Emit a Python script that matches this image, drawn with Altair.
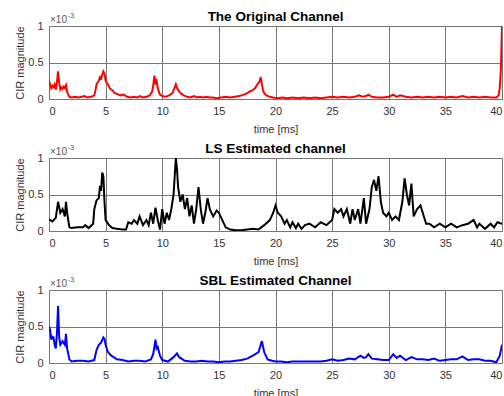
import altair as alt
import pandas as pd

# (time [ms], CIR magnitude x1e-3)
ORIGINAL = [(0,.25),(.1,.2),(.2,.15),(.3,.18),(.4,.16),(.5,.2),(.6,.13),(.7,.22),(.8,.38),(.9,.22),
    (1.0,.13),(1.1,.16),(1.2,.14),(1.3,.17),(1.4,.15),(1.5,.19),(1.6,.1),(1.7,.06),(1.8,.03),(2.0,.02),
    (2.3,.03),(2.6,.02),(2.9,.03),(3.1,.04),(3.4,.02),(3.7,.03),(4.0,.05),(4.1,.12),(4.2,.2),(4.3,.23),
    (4.4,.25),(4.5,.3),(4.6,.28),(4.7,.33),(4.8,.38),(4.9,.35),(5.0,.25),(5.1,.22),(5.2,.2),(5.4,.14),
    (5.6,.12),(5.8,.08),(6.0,.07),(6.3,.05),(6.6,.06),(6.9,.03),(7.2,.02),(7.5,.03),(7.8,.02),(8.0,.04),
    (8.3,.02),(8.6,.03),(8.9,.05),(9.1,.1),(9.2,.18),(9.3,.32),(9.4,.22),(9.5,.25),(9.6,.15),(9.7,.1),
    (9.8,.06),(10.0,.04),(10.3,.03),(10.6,.05),(10.9,.08),(11.0,.12),(11.1,.16),(11.2,.2),(11.3,.15),
    (11.5,.1),(11.7,.07),(11.9,.05),(12.2,.03),(12.5,.02),(12.8,.04),(13.1,.02),(13.3,.03),(13.6,.02),
    (13.9,.03),(14.2,.02),(14.5,.02),(14.8,.01),(15.2,.02),(15.6,.03),(16.0,.02),(16.4,.03),(16.8,.04),
    (17.2,.06),(17.5,.08),(17.8,.11),(18.0,.12),(18.2,.15),(18.4,.2),(18.6,.24),(18.7,.3),(18.8,.2),
    (18.9,.12),(19.0,.08),(19.2,.05),(19.5,.03),(19.8,.02),(20.2,.01),(20.6,.02),(21.0,.01),(21.5,.02),
    (22.0,.01),(22.5,.02),(23.0,.01),(23.5,.02),(24.0,.01),(24.5,.02),(25.0,.03),(25.5,.02),(26.0,.03),
    (26.5,.02),(27.0,.03),(27.4,.05),(27.7,.03),(28.0,.04),(28.2,.06),(28.5,.03),(29.0,.02),(29.5,.02),
    (30.0,.03),(30.4,.06),(30.7,.03),(31.0,.05),(31.5,.03),(32.0,.02),(32.5,.03),(33.0,.02),(33.5,.03),
    (34.0,.02),(34.5,.03),(35.0,.02),(35.5,.03),(36.0,.02),(36.5,.04),(37.0,.02),(37.5,.03),(38.0,.02),
    (38.5,.03),(39.0,.02),(39.5,.02),(39.7,.05),(39.8,.15),(39.9,.4),(40.0,1.0)]

LS = [(0,.16),(.3,.13),(.6,.18),(.8,.4),(1.0,.25),(1.2,.3),(1.4,.2),(1.5,.4),(1.6,.25),(1.8,.05),
    (2.0,.04),(2.5,.05),(3.0,.05),(3.2,.08),(3.5,.04),(3.9,.1),(4.0,.3),(4.2,.42),(4.4,.45),(4.5,.62),
    (4.6,.55),(4.7,.8),(4.8,.75),(4.9,.4),(5.0,.15),(5.3,.08),(5.6,.04),(6.0,.03),(6.5,.02),(6.8,.02),
    (7.0,.12),(7.3,.1),(7.5,.15),(7.8,.1),(8.0,.2),(8.3,.08),(8.6,.15),(8.8,.08),(9.0,.25),(9.2,.1),
    (9.4,.32),(9.6,.15),(9.8,.02),(10.0,.3),(10.2,.1),(10.4,.25),(10.6,.15),(10.8,.3),(11.0,.5),
    (11.2,1.0),(11.3,.85),(11.4,.6),(11.6,.4),(11.8,.5),(12.0,.3),(12.2,.45),(12.4,.2),(12.6,.35),
    (12.8,.1),(13.0,.3),(13.2,.6),(13.4,.3),(13.6,.1),(13.8,.25),(14.0,.45),(14.2,.3),(14.5,.2),
    (14.8,.28),(15.0,.25),(15.3,.15),(15.6,.05),(16.0,.02),(16.5,.01),(17.0,.01),(17.5,.02),(18.0,.03),
    (18.5,.02),(19.0,.08),(19.5,.15),(19.8,.25),(20.0,.35),(20.2,.25),(20.5,.2),(20.8,.1),(21.0,.15),
    (21.3,.05),(21.5,.12),(21.8,.04),(22.0,.1),(22.3,.03),(22.6,.08),(23.0,.1),(23.5,.05),(24.0,.12),
    (24.5,.08),(25.0,.15),(25.2,.3),(25.5,.25),(25.8,.3),(26.0,.2),(26.3,.3),(26.6,.1),(26.8,.3),
    (27.0,.15),(27.3,.3),(27.5,.1),(27.8,.45),(28.0,.1),(28.3,.3),(28.5,.6),(28.7,.7),(28.9,.55),
    (29.1,.75),(29.3,.4),(29.5,.25),(29.8,.2),(30.0,.25),(30.3,.15),(30.6,.2),(30.9,.15),(31.2,.4),
    (31.4,.72),(31.6,.5),(31.8,.35),(32.0,.65),(32.2,.2),(32.5,.3),(32.8,.35),(33.0,.25),(33.3,.1),
    (33.6,.1),(34.0,.05),(34.5,.1),(35.0,.05),(35.5,.1),(36.0,.05),(36.5,.08),(37.0,.1),(37.5,.15),
    (37.8,.05),(38.0,.1),(38.5,.03),(39.0,.1),(39.3,.05),(39.6,.12),(40.0,.1)]

SBL = [(0,.5),(.1,.45),(.2,.32),(.3,.36),(.4,.35),(.5,.25),(.6,.2),(.7,.4),(.8,.78),(.9,.35),(1.0,.25),
    (1.2,.3),(1.4,.25),(1.5,.4),(1.6,.2),(1.8,.05),(2.0,.02),(2.5,.03),(3.0,.03),(3.5,.02),(4.0,.04),
    (4.2,.18),(4.4,.25),(4.6,.28),(4.8,.35),(4.9,.33),(5.0,.25),(5.2,.15),(5.5,.1),(6.0,.05),(6.5,.04),
    (7.0,.02),(7.5,.03),(8.0,.03),(8.5,.02),(9.0,.05),(9.2,.12),(9.4,.32),(9.5,.2),(9.6,.22),(9.8,.1),
    (10.0,.04),(10.5,.02),(11.0,.08),(11.3,.13),(11.5,.08),(12.0,.03),(12.5,.02),(13.0,.02),(13.5,.03),
    (14.0,.02),(14.5,.02),(15.0,.01),(15.5,.02),(16.0,.02),(16.5,.03),(17.0,.04),(17.5,.06),(18.0,.1),
    (18.5,.15),(18.8,.3),(19.0,.15),(19.3,.05),(19.7,.03),(20.0,.02),(20.5,.02),(21.0,.01),(21.5,.02),
    (22.0,.02),(23.0,.02),(24.0,.02),(24.5,.03),(25.0,.05),(25.5,.03),(26.0,.04),(26.5,.06),(27.0,.05),
    (27.5,.1),(27.8,.07),(28.0,.08),(28.2,.12),(28.5,.06),(29.0,.05),(29.5,.04),(30.0,.04),(30.4,.12),
    (30.7,.07),(31.0,.1),(31.5,.04),(32.0,.08),(32.5,.05),(33.0,.05),(33.5,.04),(34.0,.06),(34.5,.03),
    (35.0,.04),(35.5,.05),(36.0,.05),(36.5,.09),(37.0,.04),(37.5,.05),(38.0,.05),(38.5,.03),(39.0,.03),
    (39.5,.01),(39.8,.1),(40.0,.25)]

TITLES = ["The Original Channel", "LS Estimated channel", "SBL Estimated Channel"]
COLORS = ["#ff0000", "#000000", "#0000ff"]
X_TICKS = [0, 5, 10, 15, 20, 25, 30, 35, 40]
Y_TICKS = [0, 0.5, 1]

FONT = "Liberation Sans"
TXT = "#333333"


def panel(series, title, color):
    df = pd.DataFrame(series, columns=["t", "v"])
    line = alt.Chart(df).mark_line(color=color, strokeWidth=2, clip=True).encode(
        x=alt.X("t:Q", scale=alt.Scale(domain=[0, 40], nice=False),
                axis=alt.Axis(values=X_TICKS, title="time [ms]", grid=True, ticks=False,
                              domain=False, labelPadding=6, titlePadding=7,
                              labelFont=FONT, labelFontSize=11, labelColor=TXT,
                              titleFont=FONT, titleFontSize=11, titleFontWeight="normal",
                              titleColor=TXT, gridColor="#777", gridOpacity=1)),
        y=alt.Y("v:Q", scale=alt.Scale(domain=[0, 1], nice=False),
                axis=alt.Axis(values=Y_TICKS, format="~g", title="CIR magnitude", grid=True,
                              ticks=False, domain=False, labelPadding=6, titlePadding=2,
                              labelFont=FONT, labelFontSize=11, labelColor=TXT,
                              titleFont=FONT, titleFontSize=11, titleFontWeight="normal",
                              titleColor=TXT, gridColor="#777", gridOpacity=1)),
    )
    anchor = pd.DataFrame({"a": [0]})
    x10 = alt.Chart(anchor).mark_text(align="left", baseline="alphabetic", font=FONT,
                                      fontSize=10, color="#555").encode(
        x=alt.value(1), y=alt.value(-3), text=alt.value("×10"))
    exp = alt.Chart(anchor).mark_text(align="left", baseline="alphabetic", font=FONT,
                                      fontSize=7, color="#555").encode(
        x=alt.value(19), y=alt.value(-8), text=alt.value("-3"))
    return alt.layer(line, x10, exp).properties(
        width=453, height=73,
        title=alt.TitleParams(title, font=FONT, fontSize=13.5, fontWeight="bold",
                              color="#000", anchor="middle", offset=-11, frame="group"),
    )


chart = alt.vconcat(
    panel(ORIGINAL, TITLES[0], COLORS[0]),
    panel(LS, TITLES[1], COLORS[1]),
    panel(SBL, TITLES[2], COLORS[2]),
    spacing=6,
).properties(
    padding={"left": 14, "top": 9, "right": 0, "bottom": 0},
    background="white",
).configure_view(
    stroke="#666", strokeWidth=1
)

chart.save("out.html", embed_options={"renderer": "svg", "actions": False})
